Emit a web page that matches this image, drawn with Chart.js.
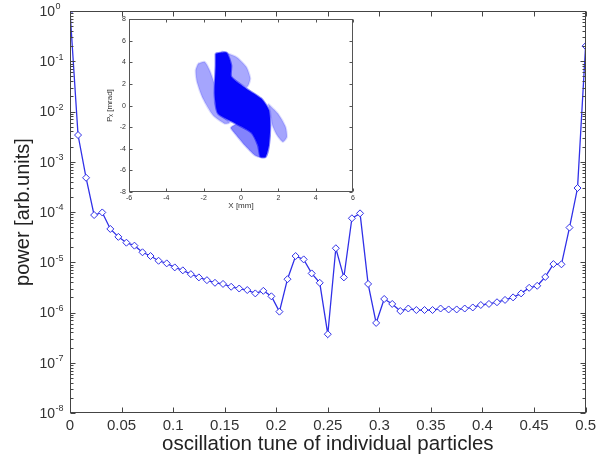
<!DOCTYPE html>
<html>
<head>
<meta charset="utf-8">
<script src="https://cdn.jsdelivr.net/npm/chart.js@4.4.1/dist/chart.umd.min.js"></script>
<style>
  html, body { margin: 0; padding: 0; background: #fff; }
  #wrap { position: relative; width: 600px; height: 461px; }
  #main { position: absolute; left: 0; top: 0; }
  #inset { position: absolute; left: 95px; top: 12px; }
</style>
</head>
<body>
<div id="wrap">
  <canvas id="main" width="600" height="461"></canvas>
  <canvas id="inset" width="270" height="205"></canvas>
</div>
<script>
// spectrum: tune bins (k/128) and power
var tune = [0, 0.0078, 0.0156, 0.0234, 0.0313, 0.0391, 0.0469, 0.0547, 0.0625, 0.0703,
  0.0781, 0.0859, 0.0938, 0.1016, 0.1094, 0.1172, 0.125, 0.1328, 0.1406, 0.1484,
  0.1563, 0.1641, 0.1719, 0.1797, 0.1875, 0.1953, 0.2031, 0.2109, 0.2188, 0.2266,
  0.2344, 0.2422, 0.25, 0.2578, 0.2656, 0.2734, 0.2813, 0.2891, 0.2969, 0.3047,
  0.3125, 0.3203, 0.3281, 0.3359, 0.3438, 0.3516, 0.3594, 0.3672, 0.375, 0.3828,
  0.3906, 0.3984, 0.4063, 0.4141, 0.4219, 0.4297, 0.4375, 0.4453, 0.4531, 0.4609,
  0.4688, 0.4766, 0.4844, 0.4922, 0.5];
var power = [1.0, 3.4e-3, 4.8e-4, 8.7e-5, 9.8e-5, 4.6e-5, 3.2e-5, 2.45e-5, 2.14e-5, 1.58e-5,
  1.33e-5, 1.07e-5, 9.5e-6, 7.9e-6, 6.9e-6, 5.8e-6, 5.0e-6, 4.4e-6, 3.9e-6, 3.7e-6,
  3.25e-6, 3.0e-6, 2.8e-6, 2.4e-6, 2.7e-6, 2.1e-6, 1.04e-6, 4.6e-6, 1.33e-5, 1.14e-5,
  6.0e-6, 3.9e-6, 3.7e-7, 1.9e-5, 5.0e-6, 7.5e-5, 9.4e-5, 3.7e-6, 6.2e-7, 1.86e-6,
  1.48e-6, 1.07e-6, 1.2e-6, 1.12e-6, 1.12e-6, 1.12e-6, 1.2e-6, 1.15e-6, 1.15e-6, 1.2e-6,
  1.26e-6, 1.41e-6, 1.48e-6, 1.6e-6, 1.78e-6, 2.0e-6, 2.4e-6, 3.1e-6, 3.4e-6, 5.1e-6,
  9.2e-6, 9.1e-6, 4.9e-5, 3.0e-4, 0.20];

var xTicks = [0, 0.05, 0.1, 0.15, 0.2, 0.25, 0.3, 0.35, 0.4, 0.45, 0.5];
var yDecades = [1e-8, 1e-7, 1e-6, 1e-5, 1e-4, 1e-3, 1e-2, 1e-1, 1];
var yMinor = [];
yDecades.slice(0, -1).forEach(function (d) {
  for (var m = 2; m <= 9; m++) yMinor.push(m * d);
});

// inset phase space: outlines of the particle cloud (X mm, Px mrad)
var coreX = [-1.36, -0.78, -0.52, -0.52, 0.29, 1.09, 1.50, 1.57, 1.50, 1.32, 1.04, 0.91, 0.55, -0.25, -1.23, -1.41, -1.36, -1.36];
var coreY = [4.82, 4.91, 3.74, 2.66, 1.57, 0.65, -0.43, -1.82, -3.68, -4.76, -4.76, -3.68, -2.50, -1.70, -0.74, 0.96, 3.74, 4.82];
var wingUX = [-1.05, -0.25, 0.29, 0.50, 0.32, -0.52, -0.52, -0.78, -1.05];
var wingUY = [5.03, 4.51, 3.58, 2.50, 1.73, 2.66, 3.74, 4.85, 5.03];
var wingLX = [-2.30, -1.95, -1.68, -1.41, -1.41, -1.14, -0.61, -0.88, -1.50, -2.04, -2.36, -2.43, -2.30];
var wingLY = [3.89, 4.05, 3.27, 1.88, 0.34, -0.74, -1.58, -1.67, -0.90, 0.65, 2.19, 3.27, 3.89];
var wingRX = [1.45, 1.98, 2.39, 2.46, 2.25, 1.93, 1.68, 1.57, 1.45];
var wingRY = [0.18, -0.74, -1.98, -2.91, -3.37, -2.75, -1.82, -0.59, 0.18];
var wingDX = [-0.25, 0.55, 0.91, 1.04, 0.73, 0.20, -0.25, -0.55, -0.25];
var wingDY = [-1.70, -2.50, -3.68, -4.76, -4.60, -3.68, -2.75, -2.05, -1.70];
var insetXTicks = [-6, -4, -2, 0, 2, 4, 6];
var insetYTicks = [-8, -6, -4, -2, 0, 2, 4, 6, 8];

var blue = 'rgb(48,48,232)';
var font = 'Liberation Sans, Arial, sans-serif';

function pts(xs, ys) {
  return xs.map(function (x, i) { return { x: x, y: ys[i] }; });
}

// box with inward ticks, MATLAB style
var boxTicks = {
  id: 'boxTicks',
  afterDraw: function (chart, args, o) {
    var ctx = chart.ctx, a = chart.chartArea, xs = chart.scales.x, ys = chart.scales.y;
    var L = Math.round(a.left) + 0.5, R = Math.round(a.right) - 0.5;
    var T = Math.round(a.top) + 0.5, B = Math.round(a.bottom) - 0.5;
    ctx.save();
    ctx.strokeStyle = o.color;
    ctx.lineWidth = 1;
    ctx.strokeRect(L, T, R - L, B - T);
    ctx.beginPath();
    o.xMajor.forEach(function (v) {
      var px = Math.round(xs.getPixelForValue(v)) + 0.5;
      ctx.moveTo(px, B); ctx.lineTo(px, B - o.len);
      ctx.moveTo(px, T); ctx.lineTo(px, T + o.len);
    });
    o.yMajor.forEach(function (v) {
      var py = Math.round(ys.getPixelForValue(v)) + 0.5;
      ctx.moveTo(L, py); ctx.lineTo(L + o.len, py);
      ctx.moveTo(R, py); ctx.lineTo(R - o.len, py);
    });
    (o.yMinor || []).forEach(function (v) {
      var py = Math.round(ys.getPixelForValue(v)) + 0.5;
      ctx.moveTo(L, py); ctx.lineTo(L + o.minorLen, py);
      ctx.moveTo(R, py); ctx.lineTo(R - o.minorLen, py);
    });
    ctx.stroke();
    if (o.powerLabels) {
      ctx.fillStyle = '#333';
      ctx.textBaseline = 'middle';
      o.yMajor.forEach(function (v) {
        var py = ys.getPixelForValue(v);
        var e = Math.round(Math.log10(v));
        ctx.font = '14px ' + font;
        ctx.textAlign = 'right';
        ctx.fillText('10', 55, py + 1);
        ctx.font = '9px ' + font;
        ctx.textAlign = 'left';
        ctx.fillText(String(e), 55.5, py - 4);
      });
    }
    ctx.restore();
  }
};

new Chart(document.getElementById('main'), {
  type: 'line',
  data: {
    datasets: [{
      data: pts(tune, power),
      borderColor: blue,
      borderWidth: 1.3,
      pointStyle: 'rectRot',
      pointRadius: 3.5,
      pointBackgroundColor: '#fff',
      pointBorderColor: blue,
      pointBorderWidth: 1,
      tension: 0
    }]
  },
  options: {
    responsive: false,
    animation: false,
    layout: { padding: { top: 11, right: 7, left: 0, bottom: 0 } },
    plugins: {
      legend: { display: false },
      tooltip: { enabled: false },
      boxTicks: {
        color: '#444', len: 5, minorLen: 3,
        xMajor: xTicks, yMajor: yDecades, yMinor: yMinor, powerLabels: true
      }
    },
    scales: {
      x: {
        type: 'linear', min: 0, max: 0.5,
        afterBuildTicks: function (s) { s.ticks = xTicks.map(function (v) { return { value: v }; }); },
        afterFit: function (s) { s.height = 48; },
        grid: { display: false, drawTicks: false },
        border: { display: false },
        ticks: {
          color: '#333', padding: 4, maxRotation: 0, autoSkip: false,
          font: { family: font, size: 15 },
          callback: function (v) { return String(+v.toFixed(2)); }
        },
        title: {
          display: true, text: 'oscillation tune of individual particles',
          color: '#222', font: { family: font, size: 20.5 }, padding: { top: 0, bottom: 4 }
        }
      },
      y: {
        type: 'logarithmic', min: 1e-8, max: 1,
        afterBuildTicks: function (s) { s.ticks = yDecades.map(function (v) { return { value: v }; }); },
        afterFit: function (s) { s.width = 70; },
        grid: { display: false, drawTicks: false },
        border: { display: false },
        ticks: { display: false },
        title: {
          display: true, text: 'power [arb.units]',
          color: '#222', font: { family: font, size: 20 }, padding: { top: 11, bottom: 0 }
        }
      }
    }
  },
  plugins: [boxTicks]
});

function shape(xs, ys, color, edge, order) {
  return {
    data: pts(xs, ys), showLine: true, fill: 'shape',
    backgroundColor: color, borderColor: edge, borderWidth: 2,
    pointRadius: 0, tension: 0.2, order: order
  };
}

new Chart(document.getElementById('inset'), {
  type: 'scatter',
  data: {
    datasets: [
      shape(coreX, coreY, 'rgb(5,5,250)', 'rgba(5,5,250,0.5)', 0),
      shape(wingUX, wingUY, 'rgba(40,40,250,0.4)', 'rgba(40,40,250,0.15)', 1),
      shape(wingLX, wingLY, 'rgba(40,40,250,0.42)', 'rgba(40,40,250,0.15)', 1),
      shape(wingRX, wingRY, 'rgba(40,40,250,0.42)', 'rgba(40,40,250,0.15)', 1),
      shape(wingDX, wingDY, 'rgba(30,30,250,0.55)', 'rgba(40,40,250,0.2)', 1)
    ]
  },
  options: {
    responsive: false,
    animation: false,
    layout: { padding: { top: 7, right: 12, left: 0, bottom: 0 } },
    plugins: {
      legend: { display: false },
      tooltip: { enabled: false },
      boxTicks: { color: '#555', len: 3, xMajor: insetXTicks, yMajor: insetYTicks }
    },
    scales: {
      x: {
        type: 'linear', min: -6, max: 6,
        afterBuildTicks: function (s) { s.ticks = insetXTicks.map(function (v) { return { value: v }; }); },
        afterFit: function (s) { s.height = 25; },
        grid: { display: false, drawTicks: false },
        border: { display: false },
        ticks: { color: '#333', padding: 2, maxRotation: 0, autoSkip: false, font: { family: font, size: 7 } },
        title: { display: true, text: 'X [mm]', color: '#333', font: { family: font, size: 8 }, padding: { top: 0, bottom: 6 } }
      },
      y: {
        type: 'linear', min: -8, max: 8,
        afterBuildTicks: function (s) { s.ticks = insetYTicks.map(function (v) { return { value: v }; }); },
        afterFit: function (s) { s.width = 34; },
        grid: { display: false, drawTicks: false },
        border: { display: false },
        ticks: { color: '#333', padding: 3, autoSkip: false, font: { family: font, size: 7 } },
        title: { display: true, text: 'Pₓ [mrad]', color: '#333', font: { family: font, size: 8 }, padding: { top: 10, bottom: 0 } }
      }
    }
  },
  plugins: [boxTicks]
});
</script>
</body>
</html>
